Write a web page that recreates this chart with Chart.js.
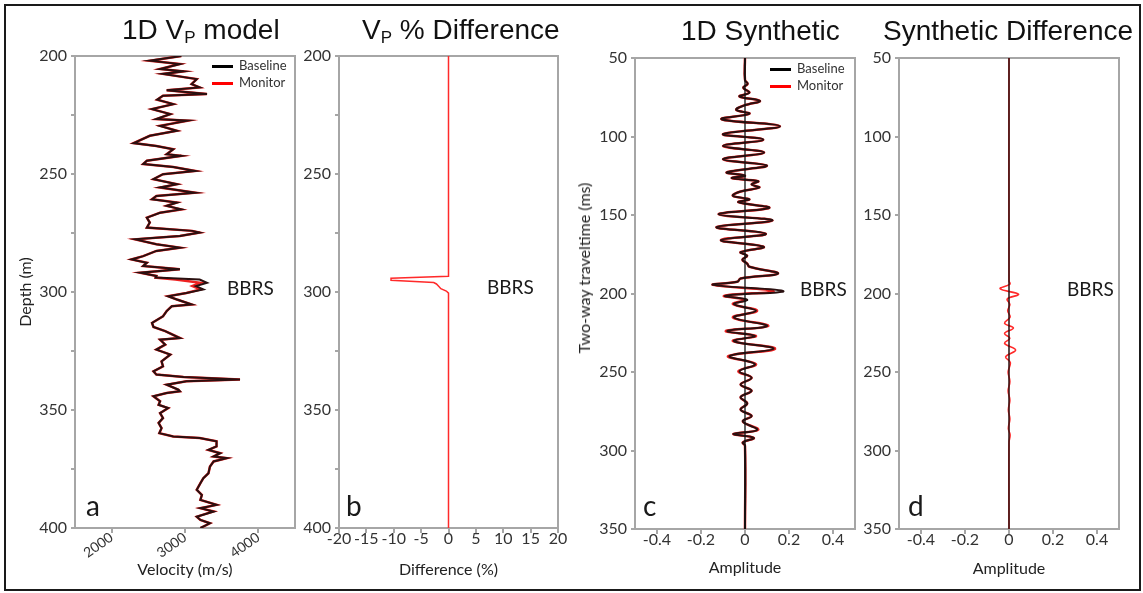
<!DOCTYPE html>
<html>
<head>
<meta charset="utf-8">
<script src="https://cdn.jsdelivr.net/npm/chart.js@4.4.0/dist/chart.umd.min.js"></script>
<style>
  body { margin: 0; background: #fff; width: 1143px; height: 593px; position: relative; overflow: hidden; font-family: Lato, sans-serif; }
  #frame { position: absolute; left: 4px; top: 4px; width: 1137px; height: 587px; box-sizing: border-box; border: 2px solid #1a1a1a; }
  canvas { position: absolute; }
  .t { position: absolute; white-space: nowrap; line-height: 1; color: #1a1a1a; }
  .title { font-family: "Liberation Sans", Arial, sans-serif; font-size: 28px; color: #111; }
  .title sub { font-size: 17px; line-height: 0; vertical-align: -4px; }
  .bbrs { font-size: 19px; }
  .letter { font-size: 28px; }
  .leg { font-size: 13px; color: #333; }
  .swatch { position: absolute; width: 21px; height: 3px; }
  .ylab { position: absolute; white-space: nowrap; font-size: 16px; line-height: 1; color: #222; transform: translate(-50%, -50%) rotate(-90deg); }
</style>
</head>
<body>
<div id="frame"></div>
<canvas id="panelA"></canvas>
<canvas id="panelB"></canvas>
<canvas id="panelC"></canvas>
<canvas id="panelD"></canvas>

<div class="t title" style="left:122px;top:16px">1D V<sub>P</sub> model</div>
<div class="t title" style="left:362px;top:16px">V<sub>P</sub> % Difference</div>
<div class="t title" style="left:681px;top:17px">1D Synthetic</div>
<div class="t title" style="left:883px;top:17px">Synthetic Difference</div>

<div class="swatch" style="left:212px;top:65px;background:#000"></div>
<div class="t leg" style="left:239px;top:59px">Baseline</div>
<div class="swatch" style="left:212px;top:82px;background:#ff0000"></div>
<div class="t leg" style="left:239px;top:76px">Monitor</div>

<div class="swatch" style="left:770px;top:68px;background:#000"></div>
<div class="t leg" style="left:797px;top:62px">Baseline</div>
<div class="swatch" style="left:770px;top:85px;background:#ff0000"></div>
<div class="t leg" style="left:797px;top:79px">Monitor</div>

<div class="t bbrs" style="left:227px;top:278px">BBRS</div>
<div class="t bbrs" style="left:487px;top:277px">BBRS</div>
<div class="t bbrs" style="left:800px;top:279px">BBRS</div>
<div class="t bbrs" style="left:1067px;top:279px">BBRS</div>

<div class="t letter" style="left:86px;top:491px">a</div>
<div class="t letter" style="left:346px;top:491px">b</div>
<div class="t letter" style="left:643px;top:491px">c</div>
<div class="t letter" style="left:908px;top:491px">d</div>

<div class="ylab" style="left:584px;top:268px">Two-way traveltime (ms)</div>

<script>
// ---------- panel a : 1D Vp model ----------
const depthA = [200, 202, 203.4, 205.5, 206.5, 207.6, 209.8, 211.9, 213.3, 214.5,
  216.1, 216.8, 218.5, 220.4, 222.5, 224.6, 226.7, 227.4, 229.6, 231.7,
  233.8, 236.9, 238.1, 239.5, 241.6, 242.3, 244.4, 245.8, 247, 248.7,
  250.1, 252.2, 254.3, 255.7, 257.9, 259.3, 260.7, 262.1, 263.5, 265,
  266.4, 268.5, 270.6, 272.7, 274.1, 274.8, 276.3, 277.7, 279.8, 281.2,
  282.6, 284.8, 286.2, 287.6, 289, 290.4, 291.8, 293.2, 293.9, 294.7,
  296.1, 297.5, 298.9, 300.4, 301.8, 303.2, 305.3, 306, 308.1, 310.3,
  313.1, 314.8, 316.6, 319.5, 320.2, 322.3, 324.4, 326.5, 329.4, 331.5,
  333.6, 335, 336, 337.1, 337.8, 339.3, 341.4, 342.1, 342.8, 344.2,
  346.3, 347.8, 349.2, 351.3, 353.4, 355.5, 357.7, 359.8, 361.2, 361.9,
  363.3, 365.4, 366.9, 368.3, 369.7, 370.4, 371.8, 374, 376.8, 378.9,
  381, 383.8, 386, 388.1, 390.2, 391.6, 393, 395.2, 396.6, 398, 400];
const vpBaseline = [2950, 2520, 2930, 2660, 2980, 2700, 3160, 3090, 3200, 2750,
  3300, 2700, 2620, 2840, 2550, 2800, 2610, 3040, 2660, 2890,
  2520, 2300, 2610, 2840, 2750, 2950, 2480, 2430, 2840, 3140,
  2700, 2570, 2890, 2660, 3140, 2610, 2550, 2890, 2750, 2950,
  2660, 2480, 2520, 2480, 3100, 3200, 2930, 2320, 2610, 2930,
  2610, 2430, 2270, 2480, 2430, 2930, 2390, 2610, 2600, 3200,
  3300, 3150, 3250, 3020, 2770, 2890, 3090, 2820, 2750, 2700,
  2550, 2570, 2730, 2930, 2660, 2730, 2610, 2800, 2680, 2700,
  2570, 2610, 2980, 3750, 3020, 2750, 2910, 2930, 2750, 2570,
  2660, 2640, 2770, 2660, 2700, 2640, 2680, 2650, 2840, 3200,
  3430, 3430, 3320, 3480, 3390, 3570, 3390, 3340, 3320, 3250,
  3210, 3160, 3230, 3210, 3430, 3210, 3390, 3160, 3210, 3340, 3210];
const vpMonitor = [2950, 2520, 2930, 2660, 2980, 2700, 3160, 3090, 3200, 2750,
  3300, 2700, 2620, 2840, 2550, 2800, 2610, 3040, 2660, 2890,
  2520, 2300, 2610, 2840, 2750, 2950, 2480, 2430, 2840, 3140,
  2700, 2570, 2890, 2660, 3140, 2610, 2550, 2890, 2750, 2950,
  2660, 2480, 2520, 2480, 3100, 3200, 2930, 2320, 2610, 2930,
  2610, 2430, 2270, 2480, 2430, 2930, 2390, 2610, 2600, 2870,
  3210, 3100, 3210, 3020, 2770, 2890, 3090, 2820, 2750, 2700,
  2550, 2570, 2730, 2930, 2660, 2730, 2610, 2800, 2680, 2700,
  2570, 2610, 2980, 3750, 3020, 2750, 2910, 2930, 2750, 2570,
  2660, 2640, 2770, 2660, 2700, 2640, 2680, 2650, 2840, 3200,
  3430, 3430, 3320, 3480, 3390, 3570, 3390, 3340, 3320, 3250,
  3210, 3160, 3230, 3210, 3430, 3210, 3390, 3160, 3210, 3340, 3210];
const depthTicks = [200, 225, 250, 275, 300, 325, 350, 375, 400];
const velocityTicks = [2000, 3000, 4000];

// ---------- panel b : Vp % difference ----------
const depthB = [200, 293.3, 294.2, 295.0, 296.0, 296.6, 297.6, 298.6, 299.6, 300.5, 400];
const vpDiffPct = [0, 0, -10.5, -10.5, -2.7, -2.2, -1.8, -1.4, -0.4, 0, 0];
const diffTicks = [-20, -15, -10, -5, 0, 5, 10, 15, 20];

// ---------- panel c : 1D synthetic ----------
const twtC = [50, 64, 66.5, 69, 72, 74.5, 77.3, 80, 83, 85.5,
  89, 93.5, 98.5, 102, 106, 110.2, 114.5, 118.5, 122.8, 125,
  126.5, 128.5, 130.5, 132.5, 135, 137.8, 140, 141.8, 145.5, 149.5,
  153.5, 157.7, 162, 166, 170.3, 173.7, 176, 178.5, 181, 183,
  187.3, 190.5, 192.5, 194.5, 198.5, 201.5, 204, 206.8, 211, 215.3,
  220.7, 223.9, 227, 230.3, 235.2, 239.9, 245, 249.5, 253.7, 258,
  262, 266, 270, 274, 278, 281.5, 286.8, 289.4, 292, 294.9, 297, 350];
const synBaseline = [0, 0, 0.012, -0.008, 0.02, -0.025, 0.068, 0.0, -0.04, 0.02,
  -0.106, 0.159, -0.1, 0.083, -0.1, 0.087, -0.1, 0.1, -0.083, 0.0,
  -0.06, 0.06, 0.03, 0.065, -0.02, -0.055, 0.02, -0.03, 0.11, -0.12,
  0.125, -0.13, 0.095, -0.11, 0.085, -0.02, 0.01, -0.012, 0.01, 0.02,
  0.15, -0.02, -0.035, -0.145, 0.175, -0.09, 0.01, -0.05, 0.05, -0.05,
  0.1, -0.08, 0.045, -0.05, 0.13, -0.07, 0.045, -0.025, 0.03, -0.02,
  0.03, -0.02, 0.01, -0.02, 0.03, -0.01, 0.055, -0.053, 0.04, -0.01, 0, 0];
const synMonitor = [0, 0, 0.012, -0.008, 0.02, -0.025, 0.068, 0.0, -0.04, 0.02,
  -0.106, 0.159, -0.1, 0.083, -0.1, 0.087, -0.1, 0.1, -0.083, 0.0,
  -0.06, 0.06, 0.03, 0.065, -0.02, -0.055, 0.02, -0.03, 0.11, -0.12,
  0.125, -0.13, 0.095, -0.11, 0.085, -0.02, 0.01, -0.012, 0.01, 0.02,
  0.15, -0.02, -0.035, -0.145, 0.13, -0.095, 0.0, -0.055, 0.055, -0.055,
  0.106, -0.087, 0.05, -0.055, 0.137, -0.077, 0.05, -0.03, 0.03, -0.02,
  0.03, -0.02, 0.01, -0.02, 0.03, -0.01, 0.06, -0.053, 0.04, -0.01, 0, 0];

// ---------- panel d : synthetic difference ----------
const twtD = [50, 192, 194, 197, 200.5, 203.5, 207, 211, 215, 219, 222, 225.4, 228.5,
  231.8, 236, 240.3, 244, 250, 256, 262, 268, 274, 280, 286, 290, 295, 350];
const synDiff = [0, 0, 0.004, -0.04, 0.043, -0.008, 0.004, -0.006, 0.005, -0.02, 0.02, -0.02, 0.004,
  -0.02, 0.03, -0.015, 0.006, -0.004, 0.004, -0.004, 0.004, -0.003, 0.004, -0.003, 0.005, 0, 0];

const twtTicks = [50, 100, 150, 200, 250, 300, 350];
const ampTicks = [-0.4, -0.2, 0, 0.2, 0.4];
const zeroTwt = [50, 350];
const zeroAmp = [0, 0];

Chart.defaults.font.family = 'Lato, sans-serif';
Chart.defaults.color = '#333';

const AXIS_GREY = '#a6a6a6';

function pts(xs, ys) {
  return xs.map((x, i) => ({ x: x, y: ys[i] }));
}

// grey box round the plot area
const framePlugin = {
  id: 'frame',
  beforeDatasetsDraw(chart) {
    const { ctx, chartArea: a } = chart;
    ctx.save();
    ctx.strokeStyle = AXIS_GREY;
    ctx.lineWidth = 2;
    ctx.strokeRect(a.left, a.top, a.right - a.left, a.bottom - a.top);
    ctx.restore();
  }
};

function line(data, color, width, order, tension) {
  return {
    data: data, showLine: true, borderColor: color, borderWidth: width,
    pointRadius: 0, order: order, tension: tension || 0, fill: false
  };
}

// box = wanted plot area in page pixels
function panel(id, box, opt) {
  const padL = 70, padT = 14, padR = 16, padB = 62;
  const cv = document.getElementById(id);
  cv.width = box.right - box.left + padL + padR;
  cv.height = box.bottom - box.top + padT + padB;
  cv.style.left = (box.left - padL) + 'px';
  cv.style.top = (box.top - padT) + 'px';

  new Chart(cv, {
    type: 'scatter',
    data: { datasets: opt.datasets },
    options: {
      responsive: false,
      animation: false,
      devicePixelRatio: 1,
      layout: { padding: { left: 0, top: padT, right: padR, bottom: 0 } },
      plugins: { legend: { display: false }, tooltip: { enabled: false } },
      scales: {
        x: {
          type: 'linear', position: 'bottom',
          min: opt.xMin, max: opt.xMax,
          afterBuildTicks: s => { s.ticks = opt.xTicks.map(v => ({ value: v })); },
          afterFit: s => { s.height = padB; },
          grid: { drawOnChartArea: false, drawTicks: true, tickLength: 5, color: AXIS_GREY, lineWidth: 2 },
          border: { color: AXIS_GREY, width: 2 },
          ticks: {
            autoSkip: false,
            font: { size: opt.xTickSize || 16 }, color: '#333', padding: opt.xTickPad,
            minRotation: opt.xRot || 0, maxRotation: opt.xRot || 0,
            callback: v => String(v)
          },
          title: {
            display: true, text: opt.xTitle, color: '#222',
            font: { size: 16 }, padding: { top: 0, bottom: opt.xTitlePad }
          }
        },
        y: {
          type: 'linear', position: 'left', reverse: true,
          min: opt.yMin, max: opt.yMax,
          afterBuildTicks: s => { s.ticks = opt.yTicks.map(v => ({ value: v })); },
          afterFit: s => { s.width = padL; },
          grid: { drawOnChartArea: false, drawTicks: true, tickLength: 4, color: AXIS_GREY, lineWidth: 2 },
          border: { color: AXIS_GREY, width: 2 },
          ticks: {
            autoSkip: false,
            font: { size: 16 }, color: '#333', padding: 4,
            callback: v => (v % 50 === 0 ? String(v) : '')
          },
          title: {
            display: !!opt.yTitle, text: opt.yTitle || '', color: '#222',
            font: { size: 16 }, padding: { top: 11, bottom: 0 }
          }
        }
      }
    },
    plugins: [framePlugin]
  });
}

panel('panelA', { left: 75, top: 56, right: 295, bottom: 528 }, {
  xMin: 1500, xMax: 4500, xTicks: velocityTicks, xRot: 35, xTickSize: 14, xTickPad: -4,
  xTitle: 'Velocity (m/s)', xTitlePad: 11,
  yMin: 200, yMax: 400, yTicks: depthTicks, yTitle: 'Depth (m)',
  datasets: [
    line(pts(vpBaseline, depthA), '#2a1010', 2.0, 0),
    line(pts(vpMonitor, depthA), '#ee2222', 2.5, 1)
  ]
});

panel('panelB', { left: 339, top: 56, right: 558, bottom: 528 }, {
  xMin: -20, xMax: 20, xTicks: diffTicks, xTickPad: -4,
  xTitle: 'Difference (%)', xTitlePad: 11,
  yMin: 200, yMax: 400, yTicks: depthTicks,
  datasets: [
    line(pts(vpDiffPct, depthB), '#ff2a2a', 1.5, 0)
  ]
});

panel('panelC', { left: 635, top: 58, right: 855, bottom: 529 }, {
  xMin: -0.5, xMax: 0.5, xTicks: ampTicks, xTickPad: -4,
  xTitle: 'Amplitude', xTitlePad: 14,
  yMin: 50, yMax: 350, yTicks: twtTicks,
  datasets: [
    line(pts(zeroAmp, zeroTwt), '#111', 1.3, 0),
    line(pts(synBaseline, twtC), '#2a1010', 2.0, 1, 0.4),
    line(pts(synMonitor, twtC), '#ee2222', 2.5, 2, 0.4)
  ]
});

panel('panelD', { left: 899, top: 58, right: 1119, bottom: 529 }, {
  xMin: -0.5, xMax: 0.5, xTicks: ampTicks, xTickPad: -4,
  xTitle: 'Amplitude', xTitlePad: 13,
  yMin: 50, yMax: 350, yTicks: twtTicks,
  datasets: [
    line(pts(zeroAmp, zeroTwt), '#2a1010', 1.5, 0),
    line(pts(synDiff, twtD), '#ff2a2a', 1.6, 1, 0.4)
  ]
});
</script>
</body>
</html>
